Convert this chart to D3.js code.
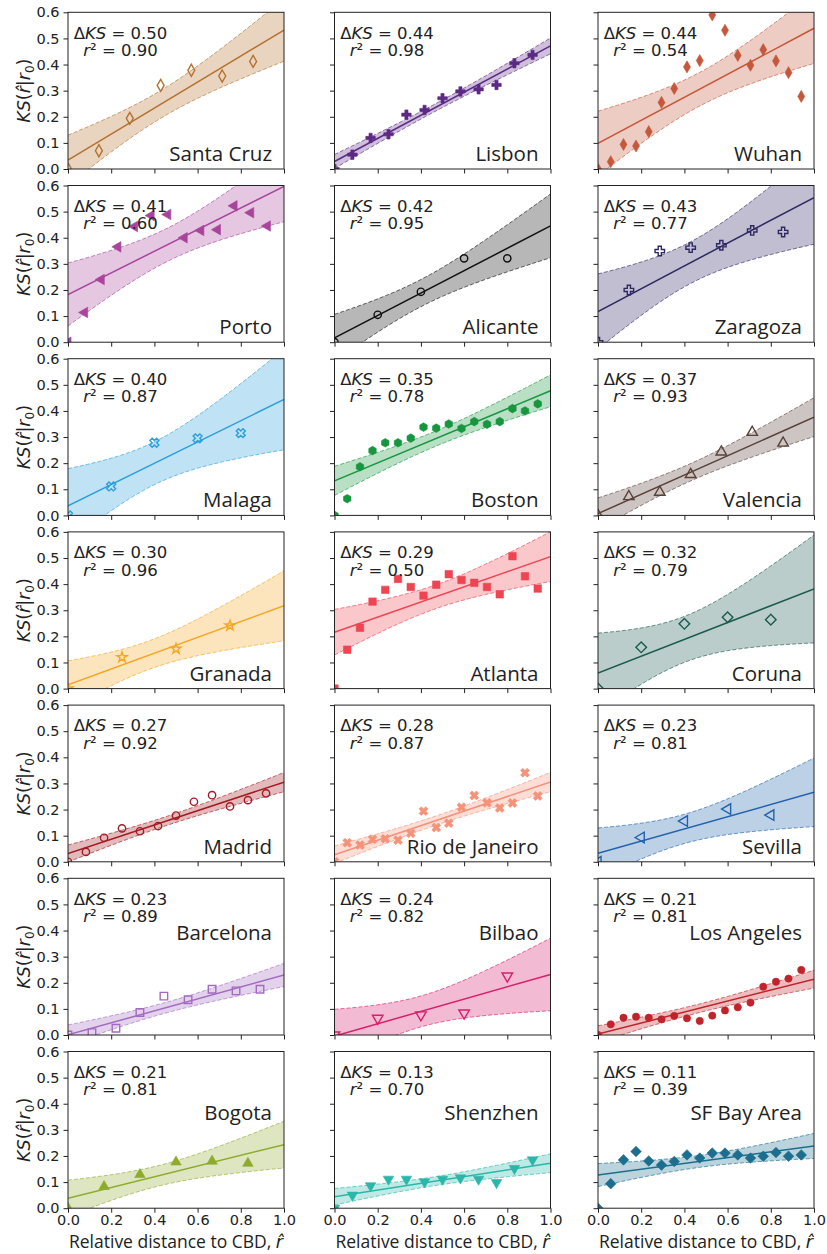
<!DOCTYPE html>
<html><head><meta charset="utf-8">
<script src="https://cdn.jsdelivr.net/npm/d3@7"></script>
<style>body{margin:0;background:#fff} svg{display:block}</style>
</head><body>
<svg id="chart" width="827" height="1254"></svg>
<script>
// ---------------- DATA ----------------
const cities = ["Santa Cruz","Lisbon","Wuhan","Porto","Alicante","Zaragoza","Malaga","Boston","Valencia",
  "Granada","Atlanta","Coruna","Madrid","Rio de Janeiro","Sevilla","Barcelona","Bilbao","Los Angeles",
  "Bogota","Shenzhen","SF Bay Area"];
const deltaKS = ["0.50","0.44","0.44","0.41","0.42","0.43","0.40","0.35","0.37","0.30","0.29","0.32",
  "0.27","0.28","0.23","0.23","0.24","0.21","0.21","0.13","0.11"];
const rSquared = ["0.90","0.98","0.54","0.60","0.95","0.77","0.87","0.78","0.93","0.96","0.50","0.79",
  "0.92","0.87","0.81","0.89","0.82","0.81","0.81","0.70","0.39"];
const xTicks = [0, 0.2, 0.4, 0.6, 0.8, 1.0];
const yTicks = [0, 0.1, 0.2, 0.3, 0.4, 0.5, 0.6];

// relative-distance grids
const x4  = [0, 0.25, 0.5, 0.75];
const x5  = [0, 0.2, 0.4, 0.6, 0.8];
const x6  = [0, 0.167, 0.333, 0.5, 0.667, 0.833];
const x7  = [0, 0.143, 0.286, 0.429, 0.571, 0.714, 0.857];
const x9  = [0, 0.111, 0.222, 0.333, 0.444, 0.556, 0.667, 0.778, 0.889];
const x12 = [0, 0.083, 0.167, 0.25, 0.333, 0.417, 0.5, 0.583, 0.667, 0.75, 0.833, 0.917];
const x13 = [0, 0.077, 0.154, 0.231, 0.308, 0.385, 0.462, 0.538, 0.615, 0.692, 0.769, 0.846, 0.923];
const x17 = [0, 0.059, 0.118, 0.176, 0.235, 0.294, 0.353, 0.412, 0.471, 0.529, 0.588, 0.647, 0.706,
  0.765, 0.824, 0.882, 0.941];

// KS values per city
const ySantaCruz = [0, 0.07, 0.194, 0.32, 0.378, 0.356, 0.412];
const yLisbon    = [0, 0.055, 0.119, 0.133, 0.208, 0.226, 0.271, 0.297, 0.305, 0.322, 0.405, 0.437];
const yWuhan     = [0, 0.028, 0.094, 0.088, 0.143, 0.255, 0.308, 0.391, 0.415, 0.59, 0.531, 0.435,
  0.397, 0.457, 0.414, 0.369, 0.278];
const yPorto     = [0, 0.114, 0.24, 0.365, 0.443, 0.485, 0.489, 0.4, 0.428, 0.431, 0.522, 0.496, 0.445];
const yAlicante  = [0, 0.105, 0.193, 0.321, 0.321];
const yZaragoza  = [0, 0.2, 0.349, 0.362, 0.371, 0.428, 0.422];
const yMalaga    = [0, 0.111, 0.278, 0.295, 0.315];
const yBoston    = [0, 0.064, 0.186, 0.248, 0.278, 0.278, 0.296, 0.338, 0.334, 0.35, 0.333, 0.359,
  0.349, 0.359, 0.409, 0.4, 0.427];
const yValencia  = [0, 0.072, 0.089, 0.157, 0.243, 0.318, 0.277];
const yGranada   = [0, 0.12, 0.152, 0.241];
const yAtlanta   = [0, 0.149, 0.233, 0.333, 0.378, 0.42, 0.389, 0.356, 0.398, 0.438, 0.416, 0.405,
  0.389, 0.361, 0.507, 0.43, 0.383];
const yCoruna    = [0, 0.158, 0.248, 0.273, 0.264];
const yMadrid    = [0, 0.038, 0.092, 0.128, 0.117, 0.137, 0.177, 0.23, 0.255, 0.212, 0.236, 0.262];
const yRio       = [0, 0.073, 0.064, 0.086, 0.088, 0.083, 0.109, 0.194, 0.131, 0.148, 0.209, 0.254,
  0.226, 0.206, 0.225, 0.341, 0.252];
const ySevilla   = [0, 0.093, 0.156, 0.202, 0.179];
const yBarcelona = [0, 0.009, 0.026, 0.086, 0.149, 0.135, 0.175, 0.169, 0.175];
const yBilbao    = [0, 0.064, 0.077, 0.084, 0.226];
const yLosAngeles= [0, 0.041, 0.066, 0.07, 0.066, 0.06, 0.073, 0.064, 0.054, 0.074, 0.094, 0.106,
  0.124, 0.185, 0.204, 0.216, 0.249];
const yBogota    = [0, 0.083, 0.129, 0.177, 0.18, 0.172];
const yShenzhen  = [0, 0.05, 0.086, 0.111, 0.111, 0.101, 0.111, 0.116, 0.111, 0.098, 0.152, 0.185];
const ySFBay     = [0, 0.094, 0.185, 0.217, 0.181, 0.165, 0.179, 0.204, 0.192, 0.211, 0.211, 0.204,
  0.192, 0.199, 0.213, 0.199, 0.204];

const pointsX = [x7, x12, x17, x13, x5, x7, x5, x17, x7, x4, x17, x5, x12, x17, x5, x9, x5, x17, x6, x12, x17];
const pointsY = [ySantaCruz, yLisbon, yWuhan, yPorto, yAlicante, yZaragoza, yMalaga, yBoston, yValencia,
  yGranada, yAtlanta, yCoruna, yMadrid, yRio, ySevilla, yBarcelona, yBilbao, yLosAngeles,
  yBogota, yShenzhen, ySFBay];

// Student t quantiles (0.975) by degrees of freedom
const tQuantile = {1:12.706,2:4.303,3:3.182,4:2.776,5:2.571,6:2.447,7:2.365,8:2.306,9:2.262,10:2.228,
  11:2.201,12:2.179,13:2.160,14:2.145,15:2.131,16:2.120,17:2.110,18:2.101,19:2.093,20:2.086};

// ---------------- STYLE ----------------
const colors = ["#b5712f","#5c2a85","#c5573a","#a8449c","#111111","#2e2862","#2b9fdb","#17963f","#5a4037",
  "#f5a623","#ef4452","#1b5b4f","#a31c22","#f4927a","#2162ad","#a36bbf","#d81f6c","#c1232b",
  "#8eab2d","#2ab7a9","#1b6e8d"];
const markers = ["thin_diamond","plus","thin_diamond","triangle_left","circle","plus","x","hexagon","triangle_up",
  "star","square","diamond","circle","x","triangle_left","square","triangle_down","circle",
  "triangle_up","triangle_down","diamond"];
const filled = [false,true,true,true,false,false,false,true,false,
  false,true,false,false,true,false,false,false,true,
  true,true,true];

const colLeft = [68, 334.5, 598];
const panelW = 216, panelH = 156.7, rowPitch = 173.2, top0 = 12.3;

const svg = d3.select("#chart");
const x = d3.scaleLinear().domain([0, 1]).range([0, panelW]);
const y = d3.scaleLinear().domain([0, 0.6]).range([panelH, 0]);

const symbolHexagon = {
  draw(ctx, size) {
    const r = Math.sqrt(2 * size / (3 * Math.sqrt(3)));
    for (let i = 0; i < 6; i++) {
      const a = Math.PI / 2 + i * Math.PI / 3;
      const px = r * Math.cos(a), py = r * Math.sin(a);
      if (i === 0) ctx.moveTo(px, py); else ctx.lineTo(px, py);
    }
    ctx.closePath();
  }
};
const markerDefs = {
  thin_diamond: {type: d3.symbolDiamond, size: 42, rot: 0},
  plus: {type: d3.symbolCross, size: 50, rot: 0},
  x: {type: d3.symbolCross, size: 50, rot: 45},
  triangle_left: {type: d3.symbolTriangle, size: 48, rot: -90},
  triangle_up: {type: d3.symbolTriangle, size: 48, rot: 0},
  triangle_down: {type: d3.symbolTriangle, size: 48, rot: 180},
  circle: {type: d3.symbolCircle, size: 42, rot: 0},
  hexagon: {type: symbolHexagon, size: 48, rot: 0},
  star: {type: d3.symbolStar, size: 32, rot: 0},
  square: {type: d3.symbolSquare, size: 56, rot: 0},
  diamond: {type: d3.symbolSquare, size: 56, rot: 45}
};

function fit(xs, ys) {
  const n = xs.length;
  const mx = d3.mean(xs), my = d3.mean(ys);
  let sxx = 0, sxy = 0;
  xs.forEach((xi, i) => { sxx += (xi - mx) ** 2; sxy += (xi - mx) * (ys[i] - my); });
  const b = sxy / sxx, a = my - b * mx;
  let ssr = 0;
  xs.forEach((xi, i) => { ssr += (ys[i] - (a + b * xi)) ** 2; });
  const s = Math.sqrt(ssr / (n - 2));
  const t = tQuantile[n - 2];
  return {a, b, hw: xv => t * s * Math.sqrt(1 / n + (xv - mx) ** 2 / sxx)};
}

const fontTick = "'DejaVu Sans', sans-serif";
const fontName = "'Open Sans', sans-serif";
const sampleX = d3.range(0, 1.00001, 0.01);

cities.forEach((city, k) => {
  const row = Math.floor(k / 3), col = k % 3;
  const left = colLeft[col], top = top0 + row * rowPitch;
  const g = svg.append("g").attr("transform", `translate(${left},${top})`);
  const clipId = "clip" + k;
  g.append("clipPath").attr("id", clipId).append("rect")
    .attr("x", 0).attr("y", 0).attr("width", panelW).attr("height", panelH);

  const c = colors[k];
  const xs = pointsX[k], ys = pointsY[k];
  const f = fit(xs, ys);
  const plot = g.append("g").attr("clip-path", `url(#${clipId})`);

  const area = d3.area().x(d => x(d)).y0(d => y(f.a + f.b * d - f.hw(d))).y1(d => y(f.a + f.b * d + f.hw(d)));
  plot.append("path").datum(sampleX).attr("d", area).attr("fill", c).attr("fill-opacity", 0.3);
  const upper = d3.line().x(d => x(d)).y(d => y(f.a + f.b * d + f.hw(d)));
  const lower = d3.line().x(d => x(d)).y(d => y(f.a + f.b * d - f.hw(d)));
  [upper, lower].forEach(gen => {
    plot.append("path").datum(sampleX).attr("d", gen).attr("fill", "none")
      .attr("stroke", c).attr("stroke-opacity", 0.65).attr("stroke-width", 1)
      .attr("stroke-dasharray", "4,2");
  });
  plot.append("line").attr("x1", x(0)).attr("x2", x(1))
    .attr("y1", y(f.a)).attr("y2", y(f.a + f.b))
    .attr("stroke", c).attr("stroke-width", 1.5);

  const md = markerDefs[markers[k]];
  const sym = d3.symbol().type(md.type).size(md.size);
  plot.selectAll("path.pt").data(xs.map((xv, i) => [xv, ys[i]])).join("path")
    .attr("class", "pt")
    .attr("d", sym)
    .attr("transform", d => `translate(${x(d[0])},${y(d[1])}) rotate(${md.rot})`)
    .attr("fill", filled[k] ? c : "none")
    .attr("stroke", c)
    .attr("stroke-width", filled[k] ? 0.6 : 1.4);

  // axes
  const yAxis = d3.axisLeft(y).tickValues(yTicks).tickSize(4.5).tickPadding(4)
    .tickFormat(col === 0 ? d3.format(".1f") : () => "");
  const ya = g.append("g").call(yAxis);
  const xAxis = d3.axisBottom(x).tickValues(xTicks).tickSize(4.5).tickPadding(2.5)
    .tickFormat(row === 6 ? d3.format(".1f") : () => "");
  const xa = g.append("g").attr("transform", `translate(0,${panelH})`).call(xAxis);
  [ya, xa].forEach(a => {
    a.select(".domain").remove();
    a.selectAll("line").attr("stroke", "#222").attr("stroke-width", 1);
    a.selectAll("text").attr("font-family", fontTick).attr("font-size", 14.5).attr("fill", "#222");
  });

  g.append("rect").attr("x", 0).attr("y", 0).attr("width", panelW).attr("height", panelH)
    .attr("fill", "none").attr("stroke", "#222").attr("stroke-width", 1);

  // annotation
  const t1 = g.append("text").attr("x", 52.5).attr("y", 26.3).attr("text-anchor", "middle")
    .attr("font-family", fontTick).attr("font-size", 16.5).attr("fill", "#222");
  t1.append("tspan").text("Δ");
  t1.append("tspan").attr("font-style", "italic").text("KS");
  t1.append("tspan").text(" = " + deltaKS[k]);
  const t2 = g.append("text").attr("x", 52.5).attr("y", 43.8).attr("text-anchor", "middle")
    .attr("font-family", fontTick).attr("font-size", 16.5).attr("fill", "#222");
  t2.append("tspan").attr("font-style", "italic").text("r");
  t2.append("tspan").text("\u00b2 = " + rSquared[k]);

  // city name
  const nameOffset = row === 5 ? 95 : row === 6 ? 88 : 8;
  g.append("text").attr("x", panelW - 12).attr("y", panelH - nameOffset)
    .attr("text-anchor", "end").attr("font-family", fontName).attr("font-size", 20.5)
    .attr("fill", "#222").text(city);

  // y label
  if (col === 0) {
    const yl = g.append("text").attr("transform", `translate(${30 - left},${panelH / 2}) rotate(-90)`)
      .attr("text-anchor", "middle").attr("font-family", fontTick).attr("font-size", 17.5).attr("fill", "#222");
    yl.append("tspan").attr("font-style", "italic").text("KS");
    yl.append("tspan").text("(");
    yl.append("tspan").attr("font-style", "italic").text("r\u0302");
    yl.append("tspan").text("|");
    yl.append("tspan").attr("font-style", "italic").text("r");
    yl.append("tspan").attr("font-size", 12).attr("dy", 4).text("0");
    yl.append("tspan").attr("dy", -4).text(")");
  }
  // x label
  if (row === 6) {
    const xl = g.append("text").attr("x", panelW / 2).attr("y", panelH + 39.5)
      .attr("text-anchor", "middle").attr("font-family", fontName).attr("font-size", 17.5).attr("fill", "#222");
    xl.append("tspan").text("Relative distance to CBD, ");
    xl.append("tspan").attr("font-family", fontTick).attr("font-style", "italic").text("r\u0302");
  }
});
</script>
</body></html>
